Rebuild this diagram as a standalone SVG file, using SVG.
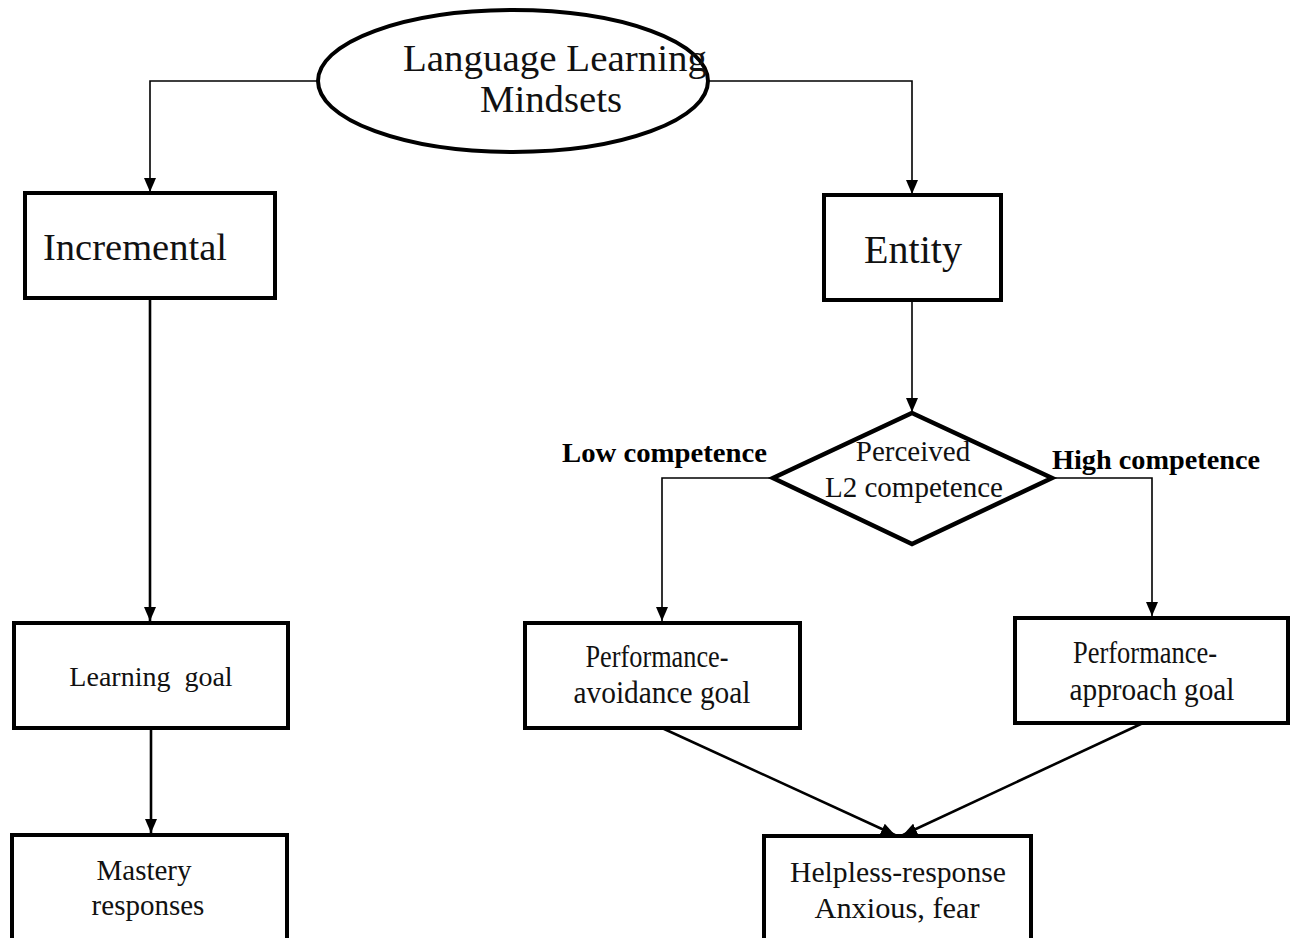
<svg xmlns="http://www.w3.org/2000/svg" width="1291" height="938" viewBox="0 0 1291 938">
<defs>
<marker id="arr" viewBox="0 0 14 12" refX="14" refY="6" markerWidth="14" markerHeight="12" markerUnits="userSpaceOnUse" orient="auto">
<path d="M0,0 L14,6 L0,12 z" fill="#000"/>
</marker>
<style>
.box{fill:#fff;stroke:#000;stroke-width:4}
.t{font-family:"Liberation Serif","Times New Roman",serif;fill:#111;text-anchor:middle}
.b{font-family:"Liberation Serif","Times New Roman",serif;font-weight:bold;fill:#000}
.c{fill:none;stroke:#000;stroke-width:1.6}
.c2{fill:none;stroke:#000;stroke-width:2.6}
</style>
</defs>
<rect width="1291" height="938" fill="#fff"/>
<g id="connectors">
<path class="c" d="M318,81 H150 V192" marker-end="url(#arr)"/>
<path class="c" d="M708,81 H912 V194" marker-end="url(#arr)"/>
<path class="c2" d="M150,298 V621" marker-end="url(#arr)"/>
<path class="c2" d="M151,728 V833" marker-end="url(#arr)"/>
<path class="c" d="M912,300 V412" marker-end="url(#arr)"/>
<path class="c" d="M773,478 H662 V621" marker-end="url(#arr)"/>
<path class="c" d="M1052,478 H1152 V616" marker-end="url(#arr)"/>
<path class="c2" d="M662,728 L895,835" marker-end="url(#arr)"/>
<path class="c2" d="M1143,723 L903,835" marker-end="url(#arr)"/>
</g>
<g id="node-mindsets">
<ellipse cx="513" cy="81" rx="195" ry="71" fill="#fff" stroke="#000" stroke-width="4"/>
<text class="t" x="555" y="71" font-size="37" textLength="304" lengthAdjust="spacingAndGlyphs">Language Learning</text>
<text class="t" x="551" y="112" font-size="37" textLength="142" lengthAdjust="spacingAndGlyphs">Mindsets</text>
</g>
<g id="node-incremental">
<rect class="box" x="25" y="193" width="250" height="105"/>
<text class="t" x="43" y="260" font-size="38" style="text-anchor:start" textLength="184" lengthAdjust="spacingAndGlyphs">Incremental</text>
</g>
<g id="node-entity">
<rect class="box" x="824" y="195" width="177" height="105"/>
<text class="t" x="913" y="263" font-size="40">Entity</text>
</g>
<g id="node-competence">
<polygon points="912,413 1052,478 912,544 773,478" fill="#fff" stroke="#000" stroke-width="4.5" stroke-linejoin="miter"/>
<text class="t" x="913" y="461" font-size="29" fill="#222">Perceived</text>
<text class="t" x="914" y="497" font-size="29" fill="#222">L2 competence</text>
</g>
<g id="label-low">
<text class="b" x="562" y="462" font-size="28" textLength="205" lengthAdjust="spacingAndGlyphs">Low competence</text>
</g>
<g id="label-high">
<text class="b" x="1052" y="469" font-size="28" textLength="208" lengthAdjust="spacingAndGlyphs">High competence</text>
</g>
<g id="node-learning-goal">
<rect class="box" x="14" y="623" width="274" height="105"/>
<text class="t" x="151" y="686" font-size="28" word-spacing="7">Learning goal</text>
</g>
<g id="node-mastery">
<rect class="box" x="12" y="835" width="275" height="120"/>
<text class="t" x="144" y="880" font-size="29">Mastery</text>
<text class="t" x="148" y="915" font-size="29">responses</text>
</g>
<g id="node-avoidance">
<rect class="box" x="525" y="623" width="275" height="105"/>
<text class="t" x="657" y="667" font-size="31" textLength="143" lengthAdjust="spacingAndGlyphs">Performance-</text>
<text class="t" x="662" y="703" font-size="31" textLength="177" lengthAdjust="spacingAndGlyphs">avoidance  goal</text>
</g>
<g id="node-approach">
<rect class="box" x="1015" y="618" width="273" height="105"/>
<text class="t" x="1145" y="663" font-size="31" textLength="144" lengthAdjust="spacingAndGlyphs">Performance-</text>
<text class="t" x="1152" y="700" font-size="31" textLength="165" lengthAdjust="spacingAndGlyphs">approach  goal</text>
</g>
<g id="node-helpless">
<rect class="box" x="764" y="836" width="267" height="120"/>
<text class="t" x="898" y="882" font-size="30" textLength="216" lengthAdjust="spacingAndGlyphs">Helpless-response</text>
<text class="t" x="897" y="918" font-size="30" textLength="165" lengthAdjust="spacingAndGlyphs">Anxious,  fear</text>
</g>
</svg>
